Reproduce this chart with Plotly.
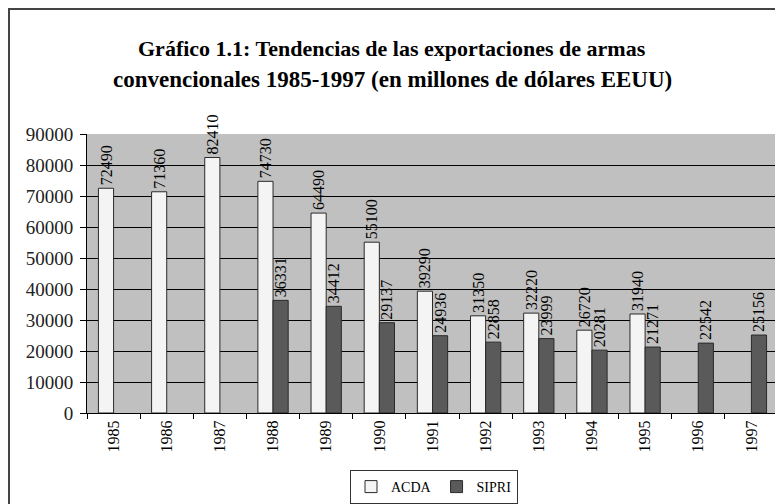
import plotly.graph_objects as go

years = ["1985", "1986", "1987", "1988", "1989", "1990", "1991",
         "1992", "1993", "1994", "1995", "1996", "1997"]
acda = [72490, 71360, 82410, 74730, 64490, 55100, 39290,
        31350, 32220, 26720, 31940, None, None]
sipri = [None, None, None, 36331, 34412, 29137, 24936,
         22858, 23999, 20281, 21271, 22542, 25156]
y_ticks = [0, 10000, 20000, 30000, 40000, 50000, 60000, 70000, 80000, 90000]
title_lines = ["Gráfico 1.1: Tendencias de las exportaciones de armas",
               "convencionales 1985-1997 (en millones de dólares EEUU)"]

SERIF = "Liberation Serif, Times New Roman, serif"
# page body has an 8px margin, so figure coordinates = window - 8
OFF = 8
PLOT_L, PLOT_R = 87 - OFF, 778 - OFF
PLOT_T, PLOT_B = 134 - OFF, 413 - OFF
W, H = 783, 504


def py(p):
    return (PLOT_B - (p - OFF)) / (PLOT_B - PLOT_T)


def px(p):
    return ((p - OFF) - PLOT_L) / (PLOT_R - PLOT_L)


fig = go.Figure()
fig.add_trace(go.Bar(
    x=years, y=acda, name="ACDA",
    marker=dict(color="#F4F4F4", line=dict(color="#2a2a2a", width=1)),
    text=[str(v) if v is not None else "" for v in acda],
    textposition="outside", textangle=-90, cliponaxis=False,
    constraintext="none",
    textfont=dict(family=SERIF, size=16, color="black"),
))
fig.add_trace(go.Bar(
    x=years, y=sipri, name="SIPRI",
    marker=dict(color="#5A5A5A", line=dict(color="#2a2a2a", width=1)),
    text=[str(v) if v is not None else "" for v in sipri],
    textposition="outside", textangle=-90, cliponaxis=False,
    constraintext="none",
    textfont=dict(family=SERIF, size=16, color="black"),
))

fig.update_layout(
    width=W, height=H,
    margin=dict(l=PLOT_L, r=W - PLOT_R, t=PLOT_T, b=H - PLOT_B, autoexpand=False),
    paper_bgcolor="white", plot_bgcolor="#C0C0C0",
    barmode="group", bargap=0.43, bargroupgap=0,
    font=dict(family=SERIF, color="black"),
    showlegend=True,
    legend=dict(
        orientation="h", x=px(434), xanchor="center",
        y=py(470), yanchor="top",
        bordercolor="#333", borderwidth=1, bgcolor="white",
        font=dict(family=SERIF, size=14, color="black"),
    ),
)
for i, line in enumerate(title_lines):
    fig.add_annotation(
        text="<b>" + line + "</b>", xref="paper", yref="paper",
        x=px(392), y=py(48 + 32 * i),
        xanchor="center", yanchor="middle", showarrow=False,
        font=dict(family=SERIF, size=22 if i == 0 else 23, color="black"),
    )
fig.update_xaxes(
    type="category", tickangle=-90, tickson="boundaries",
    ticks="outside", ticklen=5, tickcolor="black",
    showline=True, linecolor="black", linewidth=1, mirror=False,
    tickfont=dict(family=SERIF, size=16, color="black"),
    showgrid=False, automargin=False,
)
fig.update_yaxes(
    range=[0, 90000], tickvals=y_ticks, ticktext=[str(v) for v in y_ticks],
    ticks="outside", ticklen=6, tickcolor="black", ticklabelstandoff=3,
    showgrid=True, gridcolor="black", gridwidth=1,
    showline=True, linecolor="black", linewidth=1,
    tickfont=dict(family=SERIF, size=19, color="#222"),
    zeroline=False, automargin=False,
)
fig.add_shape(type="rect", xref="paper", yref="paper",
              x0=px(OFF + 1), x1=px(800), y0=py(530), y1=py(OFF + 1),
              line=dict(color="#444", width=2), fillcolor="rgba(0,0,0,0)",
              layer="above")
fig.add_shape(type="line", xref="paper", yref="paper",
              x0=1, x1=1, y0=0, y1=1,
              line=dict(color="#888", width=1))

fig.write_html("out.html")
